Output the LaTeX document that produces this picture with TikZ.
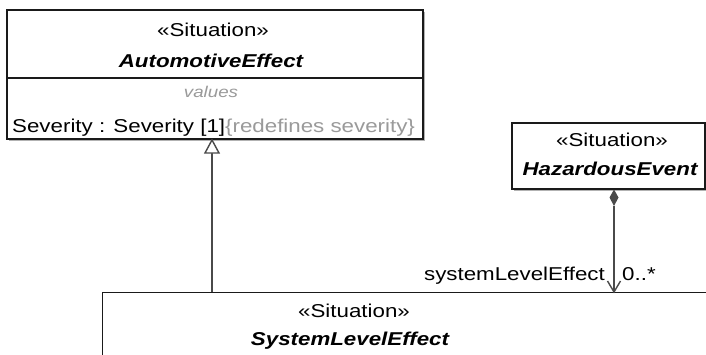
\documentclass[tikz,border=0pt]{standalone}
\usepackage{fontspec}
\setmainfont{Liberation Sans}[FakeStretch=1.2]
\usetikzlibrary{shadows,calc}
\definecolor{linegray}{HTML}{4A4A4A}
\definecolor{boxline}{HTML}{1A1A1A}
\definecolor{softgray}{HTML}{9A9A9A}
\tikzset{
  umlbox/.style={draw=boxline, line width=1.3pt, fill=white, inner sep=0pt,
    drop shadow={shadow xshift=2pt, shadow yshift=-2pt, opacity=0.6, fill=gray}},
  txt/.style={inner sep=0pt, anchor=base, font=\fontsize{18.6}{22}\selectfont},
  nametxt/.style={txt, font=\fontsize{18.6}{22}\selectfont\bfseries\itshape},
  smalltxt/.style={txt, font=\fontsize{15.6}{18}\selectfont\itshape, text=softgray},
  conn/.style={draw=linegray, line width=1.4pt},
}
\begin{document}
\begin{tikzpicture}[x=1pt, y=-1pt]
\useasboundingbox (0,0) rectangle (706,354);
\clip (0,0) rectangle (706,354);
\fill[white] (0,0) rectangle (706,354);

% AutomotiveEffect
\node[umlbox, minimum width=416pt, minimum height=129pt] (ae) at (215,74.5) {};
\draw[boxline, line width=1.3pt] (ae.west |- 0,78) coordinate (aesepl) -- (ae.east |- 0,78) coordinate (aesepr);
\node[txt] (aeste) at (213,36) {«Situation»};
\node[nametxt] (aename) at (211,67) {AutomotiveEffect};
\node[smalltxt] (aevals) at (211,97) {values};
\node[txt, anchor=base west] (aeattr) at (12,132) {Severity : Severity [1]\textcolor{softgray}{\{redefines severity\}}};

% HazardousEvent
\node[umlbox, minimum width=193pt, minimum height=66pt] (he) at (608.5,156) {};
\node[txt] (heste) at (612,146) {«Situation»};
\node[nametxt] (hename) at (610,175) {HazardousEvent};

% SystemLevelEffect
\node[umlbox, minimum width=640pt, minimum height=120pt, anchor=north west] (sle) at (102,292) {};
\node[txt] (sleste) at (354,317) {«Situation»};
\node[nametxt] (slename) at (350,345) {SystemLevelEffect};

% generalization
\coordinate (gtip) at (212,140);
\coordinate (gbase) at (212,153);
\draw[conn] (sle.north -| gbase) -- (gbase);
\draw[conn, fill=white, line join=miter] (gtip) -- ($(gbase)+(-7,0)$) -- ($(gbase)+(7,0)$) -- cycle;

% composition
\coordinate (dtop) at (614,189.5);
\coordinate (dbot) at (614,206);
\fill[linegray] (dtop) -- (618.5,197.5) -- (dbot) -- (609.5,197.5) -- cycle;
\coordinate (aend) at (sle.north -| dtop);
\draw[conn] (dbot) -- (aend);
\draw[conn] (607.5,281) -- (aend) -- (620.5,281);
\node[txt, anchor=base east] (rolelbl) at (605,280) {systemLevelEffect};
\node[txt, anchor=base west] (multlbl) at (622,280) {0..*};
\end{tikzpicture}
\end{document}
